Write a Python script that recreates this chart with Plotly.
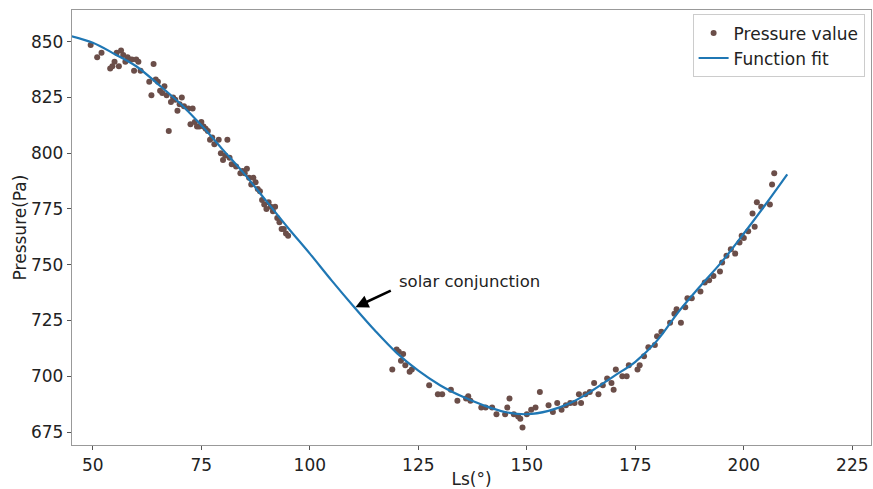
import plotly.graph_objects as go

# measured pressure points (Ls in degrees, pressure in Pa)
ls_obs = [49.5, 51, 52, 54, 54.5, 55, 55.5, 56, 56.5, 57, 57.5, 58, 58.5, 59, 59.5, 60, 60.5, 61,
          63, 63.5, 64, 64.5, 65, 65.5, 66, 66.5, 67, 67.5, 68, 68.5, 69, 69.5, 70, 70.5, 71, 72,
          72.5, 73, 73.5, 74, 74.5, 75, 75.5, 76, 76.5, 77, 77.5, 78, 79, 79.5, 80, 80.5, 81, 81.5,
          82, 83, 84, 84.5, 85, 85.5, 86, 86.5, 87, 87.5, 88, 88.5, 89, 89.5, 90, 90.5, 91, 91.5,
          92, 92.5, 93, 93.5, 94, 94.5, 95,
          119, 120, 120.5, 121, 121.5, 122, 123, 123.5, 127.5, 129.5, 130.5, 132.5, 134, 136,
          136.5, 137, 139.5, 140.5, 142, 143, 145, 145.5, 146, 147, 148, 148.5, 149, 150, 151,
          152, 153, 155, 156, 157, 158, 159, 160, 161, 162, 162.5, 163.5, 164.5, 165.5, 166.5,
          167.5, 168.5, 169.5, 170, 170.5, 172, 173, 173.5, 175.5, 176, 177, 178, 179.5, 180,
          181, 183, 184, 184.5, 185.5, 186.5, 187, 188, 190, 191, 192, 193, 194.5, 195, 196, 197,
          198, 199, 199.5, 200, 201, 202, 202.5, 203, 204, 206, 206.5, 207]
p_obs = [848.5, 843, 845, 838, 839, 841, 845, 839, 846, 844, 841, 843, 842, 842, 837, 842, 841, 837,
         832, 826, 840, 833, 832, 828, 827, 830, 826, 810, 823, 825, 824, 819, 822, 825, 821, 820,
         813, 820, 814, 812, 812, 814, 812, 811, 810, 806, 807, 804, 806, 800, 797, 799, 806, 798,
         795, 794, 791, 792, 791, 793, 789, 786, 789, 787, 784, 783, 779, 777, 775, 778, 776, 774,
         776, 771, 769, 766, 766, 764, 763,
         703, 712, 711, 707, 710, 705, 702, 703, 696, 692, 692, 694, 689, 690,
         691, 689, 686, 686, 686, 683, 683, 686, 690, 683, 682, 681, 677, 683, 685,
         686, 693, 687, 684, 688, 685, 687, 688, 688, 692, 688, 692, 693, 697, 692,
         696, 699, 697, 694, 703, 700, 700, 705, 703, 705, 709, 713, 714, 718,
         720, 724, 728, 730, 724, 731, 735, 735, 738, 742, 743, 745, 747, 751, 754, 757,
         755, 760, 763, 762, 765, 773, 767, 778, 776, 777, 786, 791]

# fitted curve
ls_fit = [45, 50, 55, 60, 65, 70, 75, 80, 85, 90, 95, 100, 105, 110, 115, 120, 125, 130, 135,
          140, 145, 150, 155, 160, 165, 170, 175, 180, 185, 190, 195, 200, 205, 210]
p_fit = [852.5, 849.5, 844.5, 839, 831, 822.5, 812.5, 801.5, 790.5, 778.5, 766.5, 755, 743, 731.5,
         720.5, 710.5, 702.5, 696, 691, 687, 684, 683, 684.5, 688, 693.5, 700, 706.5, 716, 729,
         740.5, 751.5, 764, 777, 790.5]

x_ticks = [50, 75, 100, 125, 150, 175, 200, 225]
y_ticks = [675, 700, 725, 750, 775, 800, 825, 850]

fig = go.Figure()
fig.add_trace(go.Scatter(x=ls_obs, y=p_obs, mode='markers', name='Pressure value',
                         marker=dict(color='#6b4e49', size=6)))
fig.add_trace(go.Scatter(x=ls_fit, y=p_fit, mode='lines', name='Function fit',
                         line=dict(color='#1f77b4', width=2.2, shape='spline')))

# arrow and label
fig.add_annotation(x=110.5, y=731, ax=119, ay=738.7, axref='x', ayref='y', text='',
                   showarrow=True, arrowhead=2, arrowsize=1, arrowwidth=2.6, arrowcolor='black')
fig.add_annotation(x=120, y=742.6, text='solar conjunction', showarrow=False, xanchor='left',
                   font=dict(size=16.5, color='#222'))

axis_style = dict(showgrid=False, zeroline=False, showline=True, linecolor='#999', linewidth=1.3,
                  mirror=True, ticks='outside', ticklen=4, tickcolor='#555', automargin=False,
                  tickfont=dict(size=17, color='#222'))
fig.update_layout(
    width=873, height=489,
    margin=dict(l=72, r=2, t=10, b=44),
    plot_bgcolor='white', paper_bgcolor='white',
    font=dict(family='DejaVu Sans', color='#222'),
    xaxis=dict(range=[45.2, 229.3], tickvals=x_ticks,
               title=dict(text='Ls(°)', font=dict(size=17), standoff=0), **axis_style),
    yaxis=dict(range=[669.2, 864.2], tickvals=y_ticks,
               title=dict(text='Pressure(Pa)', font=dict(size=17), standoff=0), **axis_style),
    legend=dict(x=0.992, y=0.99, xanchor='right', yanchor='top', bgcolor='white',
                bordercolor='#ccc', borderwidth=1, font=dict(size=17, color='#222')),
    showlegend=True,
)

# drop the default page margin so the figure sits at the window's corner
fig.write_html('out.html', config={'displayModeBar': False},
               post_script="document.body.style.margin='0';")
